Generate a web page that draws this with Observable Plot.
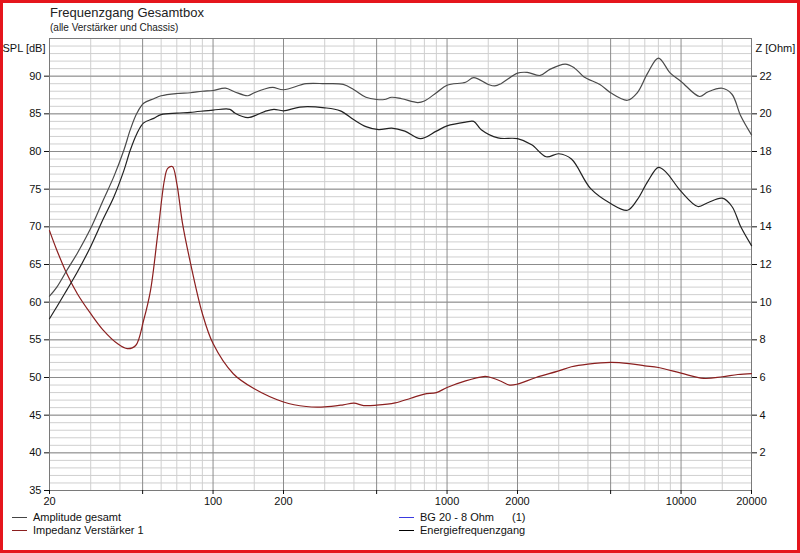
<!DOCTYPE html>
<html>
<head>
<meta charset="utf-8">
<script src="https://cdn.jsdelivr.net/npm/d3@7"></script>
<script src="https://cdn.jsdelivr.net/npm/@observablehq/plot@0.6"></script>
<style>
  html, body { margin: 0; padding: 0; background: #fff; }
  #wrap { position: relative; width: 800px; height: 553px; overflow: hidden; background: #fff;
          font-family: "Liberation Sans Narrow", "Liberation Sans", Arial, sans-serif; color: #000; }
  #border { position: absolute; left: 0; top: 0; width: 800px; height: 553px; box-sizing: border-box;
            border: 3px solid #e5151d; pointer-events: none; z-index: 10; }
  #title { position: absolute; left: 50px; top: 5px; font: 13px "Liberation Sans", Arial, sans-serif; color: #222; }
  #subtitle { position: absolute; left: 50px; top: 22px; font: 10px "Liberation Sans", Arial, sans-serif; color: #222; }
  #chart { position: absolute; left: 0; top: 36px; }
  .leg { position: absolute; font-size: 11px; line-height: 12px; white-space: pre; color: #111; }
  .leg i { display: inline-block; width: 15px; height: 0; border-top: 1px solid; vertical-align: middle; margin-right: 6px; position: relative; top: -1px; }
</style>
</head>
<body>
<div id="wrap">
  <div id="title">Frequenzgang Gesamtbox</div>
  <div id="subtitle">(alle Verstärker und Chassis)</div>
  <div id="chart"></div>
  <div class="leg" style="left:12px; top:511px;"><i style="border-color:#444"></i>Amplitude gesamt</div>
  <div class="leg" style="left:12px; top:524px;"><i style="border-color:#8b1f1f"></i>Impedanz Verstärker 1</div>
  <div class="leg" style="left:399px; top:511px;"><i style="border-color:#3a3ae0"></i>BG 20 - 8 Ohm</div>
  <div class="leg" style="left:512px; top:511px;">(1)</div>
  <div class="leg" style="left:399px; top:524px;"><i style="border-color:#000"></i>Energiefrequenzgang</div>
  <div id="border"></div>
</div>
<script>
// ---- data ----
const ampFreq = [20,21.5,23.7,26.3,30,34,37.7,41.6,44.3,47.3,50.5,55.8,60,70,80,90,100,113,124,141,150,166,180,200,250,300,360,400,450,500,540,580,640,750,800,900,1000,1200,1300,1500,1600,1700,2000,2200,2500,2750,3200,3500,3850,4500,5000,5900,6500,7200,8000,9000,10000,12000,13000,15000,16500,18000,20000];
const ampSPL  = [60.8,62.0,64.2,66.5,69.8,73.6,76.7,80.2,82.9,85.1,86.4,87.0,87.4,87.7,87.8,88.0,88.1,88.4,87.9,87.4,87.8,88.3,88.5,88.2,89.0,89.0,88.9,88.2,87.2,86.9,86.9,87.2,87.0,86.5,86.7,87.8,88.8,89.2,89.8,88.9,88.7,89.0,90.4,90.5,90.1,90.9,91.6,91.1,89.9,88.9,87.8,86.8,87.8,90.4,92.4,90.4,89.3,87.3,87.9,88.4,87.6,84.7,82.2];

const energyFreq = [20,21.5,23.7,26.3,30,34,37.7,41.6,44.3,47.3,50.5,55.8,60,70,80,100,118,124,141,166,182,200,235,300,350,400,450,510,580,660,770,900,1000,1200,1300,1400,1650,2000,2300,2650,3000,3400,4100,5000,5900,6500,7200,8000,8600,10000,11800,13000,15000,16500,18000,20000];
const energySPL  = [57.8,59.4,61.6,64.0,67.4,71.1,74.0,77.5,80.2,82.4,83.8,84.4,84.9,85.1,85.2,85.5,85.6,85.1,84.5,85.3,85.6,85.4,85.9,85.8,85.4,84.2,83.3,82.9,83.1,82.7,81.7,82.7,83.4,83.9,84.0,82.9,81.8,81.7,80.9,79.3,79.7,79.0,75.1,73.1,72.2,73.6,76.0,77.9,77.3,74.7,72.7,73.2,73.8,72.7,70.0,67.5];

const impFreq = [20,21.5,23.7,26.3,30,34,39,43,46.7,50.5,54,58,62,64,67,70,74,80,90,100,122,150,200,250,300,360,400,440,500,600,700,800,900,1000,1200,1430,1500,1700,1850,2000,2400,3000,3400,4000,5000,6000,7000,8000,10000,12500,15000,17500,20000];
const impOhm  = [13.8,12.76,11.52,10.45,9.39,8.5,7.8,7.53,7.7,9.04,10.6,13.6,16.5,17.1,17.2,16.3,14.2,12.1,9.4,7.8,6.2,5.4,4.7,4.46,4.44,4.55,4.64,4.51,4.53,4.65,4.9,5.12,5.2,5.47,5.82,6.05,6.04,5.8,5.6,5.65,6.0,6.35,6.57,6.71,6.8,6.74,6.62,6.53,6.23,5.95,6.04,6.16,6.21];

const xTickLabels = [20,50,100,200,500,1000,2000,5000,10000,20000];
const xMinorGrid  = [30,40,60,70,80,90,150,300,400,600,700,800,900,1500,3000,4000,6000,7000,8000,9000,15000];
const splTicks    = [35,40,45,50,55,60,65,70,75,80,85,90];
const ohmTicks    = [2,4,6,8,10,12,14,16,18,20,22];
const splDomain   = [35,95];
const ohmToSpl = z => 35 + 2.5 * z;   // right axis: 0 Ohm at 35 dB, 24 Ohm at 95 dB

const ampData = ampFreq.map((f,i) => ({f, v: ampSPL[i]}));
const energyData = energyFreq.map((f,i) => ({f, v: energySPL[i]}));
const impData = impFreq.map((f,i) => ({f, v: impOhm[i]}));

const yMinor = d3.range(splDomain[0], splDomain[1] + 1, 1);
const yMajor = d3.range(splDomain[0], splDomain[1] + 1, 5);

const chart = Plot.plot({
  width: 800,
  height: 480,
  marginLeft: 49,
  marginRight: 49,
  marginTop: 2,
  marginBottom: 26,
  x: { type: "log", domain: [20, 20000] },
  y: { domain: splDomain },
  style: { fontFamily: '"Liberation Sans Narrow", "Liberation Sans", Arial, sans-serif', fontSize: "11px", background: "transparent", color: "#111" },
  marks: [
    Plot.ruleY(yMinor, { stroke: "#cfcfcf", strokeWidth: 1 }),
    Plot.ruleX(xMinorGrid, { stroke: "#cfcfcf", strokeWidth: 1 }),
    Plot.ruleY(yMajor, { stroke: "#8c8c8c", strokeWidth: 1 }),
    Plot.ruleX(xTickLabels, { stroke: "#8c8c8c", strokeWidth: 1 }),
    Plot.frame({ stroke: "#7a7a7a" }),
    Plot.axisX({ ticks: xTickLabels, tickFormat: d => String(d), tickSize: 4, tickPadding: 3, label: null }),
    Plot.axisY({ ticks: splTicks, tickSize: 5, tickPadding: 3, label: null }),
    Plot.axisY({ anchor: "right", ticks: ohmTicks.map(ohmToSpl), tickFormat: d => String((d - 35) / 2.5), tickSize: 5, tickPadding: 3, label: null }),
    Plot.line(impData, { x: "f", y: d => ohmToSpl(d.v), stroke: "#8b1f1f", strokeWidth: 1.2, curve: "catmull-rom" }),
    Plot.line(energyData, { x: "f", y: "v", stroke: "#222", strokeWidth: 1.2, curve: "catmull-rom" }),
    Plot.line(ampData, { x: "f", y: "v", stroke: "#4a4a4a", strokeWidth: 1.2, curve: "catmull-rom" }),
    Plot.text(["SPL [dB]"], { frameAnchor: "top-left", dx: -4, dy: 6, textAnchor: "end", fill: "#111" }),
    Plot.text(["Z [Ohm]"], { frameAnchor: "top-right", dx: 4, dy: 6, textAnchor: "start", fill: "#111" })
  ]
});
document.getElementById("chart").appendChild(chart);
</script>
</body>
</html>
